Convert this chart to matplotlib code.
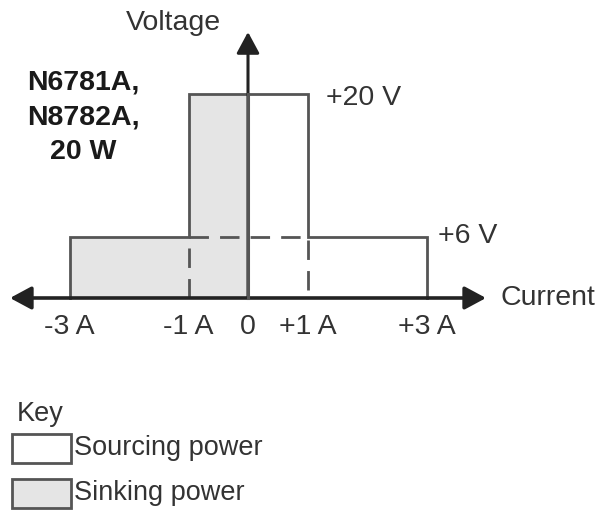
import matplotlib.pyplot as plt
from matplotlib.patches import Rectangle

plt.rcParams["font.family"] = ["Liberation Sans", "DejaVu Sans"]

# operating limits (current in A, voltage in V)
tick_currents = [-3, -1, 0, 1, 3]
tick_labels = ["-3 A", "-1 A", "0", "+1 A", "+3 A"]
low_voltage = 6
high_voltage = 20
low_v_current = 3
high_v_current = 1
model_label = "N6781A,\nN8782A,\n20 W"
key_labels = ["Sourcing power", "Sinking power"]

LINE = "#555555"
TEXT = "#333333"
FILL = "#e5e5e5"
FS = 20.5
FS_KEY = 19.5

fig = plt.figure(figsize=(6.04, 5.12), dpi=100)
ax = fig.add_axes([0, 0, 1, 1])
ax.axis("off")

# pixel layout: I=0 at x=248px, 59.5 px/A; V=0 at y=298px, 10.2 px/V
px_a, px_v = 59.5, 10.2
ax.set_xlim(-248 / px_a, (604 - 248) / px_a)
ax.set_ylim(-(512 - 298) / px_v, 298 / px_v)

# sinking power region (quadrant II)
sink_x = [-low_v_current, -low_v_current, -high_v_current, -high_v_current, 0, 0]
sink_y = [0, low_voltage, low_voltage, high_voltage, high_voltage, 0]
ax.fill(sink_x, sink_y, color=FILL, lw=0, zorder=1)

# solid outline of the operating envelope
out_x = [-low_v_current, -low_v_current, -high_v_current, -high_v_current,
         high_v_current, high_v_current, low_v_current, low_v_current]
out_y = [0, low_voltage, low_voltage, high_voltage,
         high_voltage, low_voltage, low_voltage, 0]
ax.plot(out_x, out_y, color=LINE, lw=2.0, zorder=3, solid_joinstyle="miter")

# dashed inner boundaries
dash = dict(color=LINE, lw=2.0, dashes=(7, 4), zorder=3)
ax.plot([-high_v_current, high_v_current], [low_voltage, low_voltage], **dash)
ax.plot([-high_v_current, -high_v_current], [0, low_voltage], **dash)
ax.plot([high_v_current, high_v_current], [0.8, low_voltage], **dash)

# axes with arrows
x_end = 4.0
y_end = (298 - 32) / px_v
ax.annotate("", xy=(x_end, 0), xytext=(-x_end, 0),
            arrowprops=dict(arrowstyle="<|-|>,head_length=1.3,head_width=0.7",
                            mutation_scale=10, color="#222222", lw=2.6,
                            shrinkA=0, shrinkB=0), zorder=4)
ax.annotate("", xy=(0, y_end), xytext=(0, 0),
            arrowprops=dict(arrowstyle="-|>,head_length=1.3,head_width=0.7",
                            mutation_scale=10, color="#222222", lw=2.2,
                            shrinkA=0, shrinkB=0), zorder=4)
ax.plot([0, 0], [0, high_voltage], color=LINE, lw=2.2, zorder=4)

# labels
ax.text(-1.26, 27.0, "Voltage", fontsize=FS, color=TEXT, ha="center", va="center")
ax.text(x_end + 0.25, 0, "Current", fontsize=FS, color=TEXT, ha="left", va="center")
ax.text(high_v_current + 0.31, high_voltage - 0.4, f"+{high_voltage} V", fontsize=FS,
        color=TEXT, ha="left", va="center")
ax.text(low_v_current + 0.19, low_voltage + 0.1, f"+{low_voltage} V", fontsize=FS,
        color=TEXT, ha="left", va="center")
ax.text(-2.77, 17.7, model_label, fontsize=FS, fontweight="bold", color="#1a1a1a",
        ha="center", va="center", multialignment="center", linespacing=1.45)
for cur, lab in zip(tick_currents, tick_labels):
    ax.text(cur, -2.85, lab, fontsize=FS, color=TEXT, ha="center", va="center")

# key
W, H = 604.0, 512.0
fig.text(17 / W, 1 - 414 / H, "Key", fontsize=FS_KEY, color=TEXT, ha="left", va="center")
for i, (lab, face) in enumerate(zip(key_labels, ["white", FILL])):
    top = 434 + i * 45
    fig.add_artist(Rectangle((12 / W, 1 - (top + 29) / H), 59 / W, 29 / H,
                             transform=fig.transFigure, facecolor=face,
                             edgecolor=LINE, lw=2.0))
    fig.text(74 / W, 1 - (top + 14) / H, lab, fontsize=FS_KEY, color=TEXT,
             ha="left", va="center")

fig.savefig("out.png", dpi=100)
